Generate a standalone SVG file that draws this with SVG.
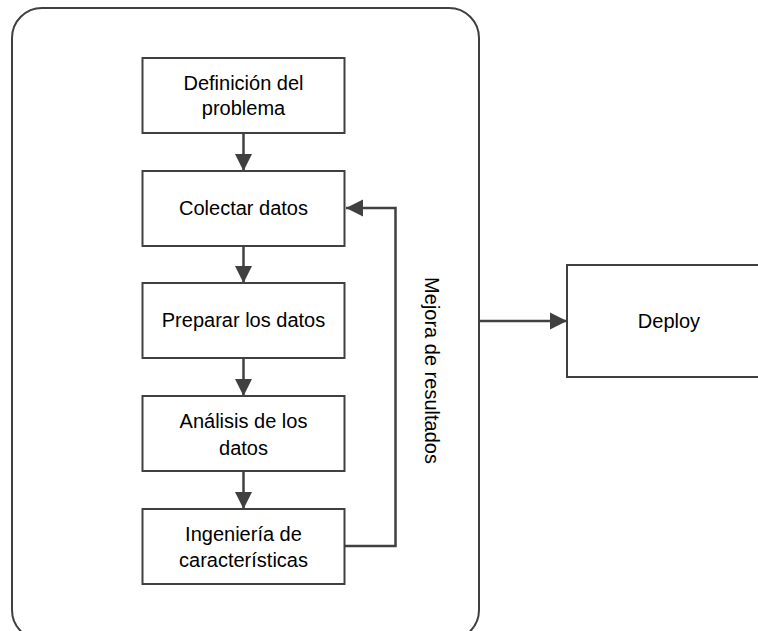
<svg xmlns="http://www.w3.org/2000/svg" width="758" height="631" viewBox="0 0 758 631">
  <style>
    .box { fill: #ffffff; stroke: #404040; stroke-width: 2; }
    .frame { fill: #ffffff; stroke: #404040; stroke-width: 2; }
    .label { font-family: "Liberation Sans", Arial, sans-serif; font-size: 20px; fill: #000000; text-anchor: middle; }
    .link { fill: none; stroke: #404040; stroke-width: 2.5; }
  </style>
  <defs>
    <marker id="arrow" markerUnits="userSpaceOnUse" markerWidth="18" markerHeight="18" viewBox="0 0 18 18" refX="17" refY="9" orient="auto">
      <path d="M0,0.5 L17,9 L0,17.5 Z" fill="#404040"/>
    </marker>
  </defs>

  <rect width="758" height="631" fill="#ffffff"/>

  <!-- process container -->
  <g id="container">
    <rect class="frame" x="12" y="8" width="467" height="632" rx="30" ry="30"/>
  </g>

  <!-- connectors -->
  <g id="connectors">
    <line class="link" x1="243.5" y1="133" x2="243.5" y2="171" marker-end="url(#arrow)"/>
    <line class="link" x1="243.5" y1="246" x2="243.5" y2="283" marker-end="url(#arrow)"/>
    <line class="link" x1="243.5" y1="358" x2="243.5" y2="396" marker-end="url(#arrow)"/>
    <line class="link" x1="243.5" y1="471" x2="243.5" y2="509" marker-end="url(#arrow)"/>
    <polyline class="link" points="344,546 395.5,546 395.5,208 346,208" marker-end="url(#arrow)"/>
    <line class="link" x1="479" y1="321" x2="567" y2="321" marker-end="url(#arrow)"/>
    <text class="label" transform="translate(425,370.5) rotate(90)" x="0" y="0">Mejora de resultados</text>
  </g>

  <g id="node-definicion">
    <rect class="box" x="142.5" y="58" width="202" height="75"/>
    <text class="label" x="243.5" y="90">Definición del</text>
    <text class="label" x="243.5" y="115">problema</text>
  </g>

  <g id="node-colectar">
    <rect class="box" x="142.5" y="171" width="202" height="75"/>
    <text class="label" x="243.5" y="215">Colectar datos</text>
  </g>

  <g id="node-preparar">
    <rect class="box" x="142.5" y="283" width="202" height="75"/>
    <text class="label" x="243.5" y="327">Preparar los datos</text>
  </g>

  <g id="node-analisis">
    <rect class="box" x="142.5" y="396" width="202" height="75"/>
    <text class="label" x="243.5" y="428">Análisis de los</text>
    <text class="label" x="243.5" y="455">datos</text>
  </g>

  <g id="node-ingenieria">
    <rect class="box" x="142.5" y="509" width="202" height="75"/>
    <text class="label" x="243.5" y="541">Ingeniería de</text>
    <text class="label" x="243.5" y="567">características</text>
  </g>

  <g id="node-deploy">
    <rect class="box" x="567" y="265" width="205" height="112"/>
    <text class="label" x="669" y="328">Deploy</text>
  </g>
</svg>
